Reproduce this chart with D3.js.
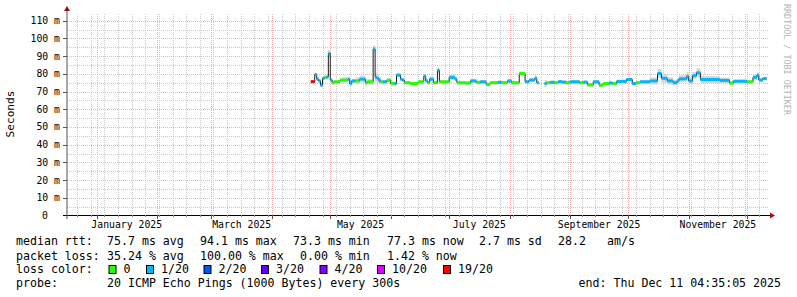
<!DOCTYPE html>
<html lang="en">
<head>
<meta charset="UTF-8">
<title>Smokeping latency</title>
<script src="https://d3js.org/d3.v7.min.js"></script>
<style>
  body { margin: 0; background: #fff; }
  svg { display: block; font-family: "DejaVu Sans Mono", monospace; }
  text { white-space: pre; }
</style>
</head>
<body>
<svg id="graph" width="797" height="297"></svg>
<script>
// each entry starts a step (day 0 = Jan 1 2025) and holds until the next one
const day = [110, 112, 113, 114, 115, 116, 117, 118, 119, 120, 121, 122, 125, 126, 129, 130, 131, 133, 135, 138,
  139, 142, 143, 144, 145, 146, 147, 149, 151, 153, 154, 156, 157, 158, 161, 165, 168, 169, 170, 171,
  173, 175, 176, 181, 184, 185, 189, 192, 195, 197, 200, 202, 206, 208, 211, 213, 217, 220, 222, 225,
  226, 227, 230, 231, 233, 235, 237, 239, 241, 243, 248, 250, 252, 255, 258, 260, 263, 265, 267, 272,
  275, 277, 279, 284, 288, 290, 293, 296, 298, 299, 303, 304, 306, 308, 310, 320, 325, 327, 334, 337,
  339, 340, 342]
const median = [75.6, 79.6, 77.0, 76.0, 73.6, 77.5, 78.0, 78.2, 91.5, 76.5, 75.0, 75.5, 76.4, 76.5, 77.0, 74.5, 76.0, 76.0, 77.0, 75.0,
  75.5, 94.1, 78.0, 77.5, 76.0, 75.5, 75.5, 76.4, 74.5, 74.5, 79.3, 77.0, 76.5, 75.0, 74.5, 75.5, 78.7, 76.0, 75.0, 77.0,
  75.0, 82.0, 75.5, 78.0, 77.0, 75.0, 74.8, 76.0, 75.2, 75.5, 74.0, 75.0, 75.2, 75.0, 76.0, 75.0, 80.2, 75.5, 76.5, 77.5,
  75.0, null, 74.5, 75.0, 75.2, 75.0, 75.6, 75.3, 75.0, 75.5, 75.0, 75.3, 73.8, 75.5, 73.6, 74.5, 74.8, 74.5, 75.7, 76.8,
  74.5, 75.0, 75.5, 76.0, 80.2, 77.5, 76.0, 75.0, 76.0, 77.2, 78.7, 76.0, 79.0, 80.6, 76.8, 76.3, 74.8, 75.8, 75.5, 78.0,
  79.3, 76.5, 77.3]
const loss = [6, 1, 1, 1, 1, 1, 0, 1, 1, 1, 0, 0, 0, 0, 1, 1, 1, 0, 1, 0,
  0, 1, 1, 1, 1, 0, 1, 0, 0, 1, 1, 1, 1, 0, 0, 0, 1, 1, 0, 1,
  0, 1, 0, 1, 1, 0, 0, 1, 0, 1, 0, 0, 1, 0, 1, 0, 0, 1, 1, 1,
  1, 0, 1, 0, 1, 0, 1, 1, 0, 1, 0, 1, 0, 1, 0, 0, 1, 0, 1, 1,
  1, 0, 1, 1, 1, 1, 1, 1, 1, 1, 1, 1, 1, 1, 1, 1, 0, 1, 0, 1,
  1, 1, 1]
const smoke = [0.5, 1, 1, 1, 1, 1, 1, 1, 2, 1, 1, 1, 1, 1.5, 1, 1, 1, 2, 2, 2,
  1.5, 2, 2.5, 2.5, 2, 1.5, 1, 1, 1, 1, 1, 1, 1, 1, 1, 1, 1, 1, 1, 1.5,
  1, 1.5, 1, 1.5, 1, 1, 1, 1, 1, 1, 1, 1, 1, 1, 1, 1, 1, 1, 1, 1.5,
  1, 0, 2, 1, 1, 1, 1, 1, 1, 1, 1, 1, 1, 1, 1, 1, 1, 1, 1, 1,
  1, 1, 1, 2, 2.5, 2.5, 2, 1.5, 1.5, 2, 2.5, 2, 2, 2.5, 2, 1.5, 1, 1, 1, 1.5,
  1.5, 1, 1]

const lossLabels = ["0", "1/20", "2/20", "3/20", "4/20", "10/20", "19/20"]
const lossColors = ["#26ff00", "#00b8ff", "#0059ff", "#5e00ff", "#7e00ff", "#dd00ff", "#ff0000"]
const monthLabels = ["January 2025", "March 2025", "May 2025", "July 2025", "September 2025", "November 2025"]
const yTicks = [0, 10, 20, 30, 40, 50, 60, 70, 80, 90, 100, 110]
const rttStats = ["75.7 ms avg", "94.1 ms max", "73.3 ms min", "77.3 ms now", "2.7 ms sd", "28.2", "am/s"]
const lossStats = ["35.24 % avg", "100.00 % max", "0.00 % min", "1.42 % now"]
const probeText = "20 ICMP Echo Pings (1000 Bytes) every 300s"
const endText = "end: Thu Dec 11 04:35:05 2025"

const svg = d3.select("#graph")
const DAY = 864e5
const t0 = Date.UTC(2025, 0, 1)
const start = new Date(Date.UTC(2024, 11, 16, 20, 0, 0))
const end = new Date(Date.UTC(2025, 11, 11, 4, 35, 5))
const pLeft = 67, pRight = 767, pTop = 14, pBottom = 215.5

const x = d3.scaleUtc().domain([start, end]).range([pLeft, pRight])
const y = d3.scaleLinear().domain([0, 113.8]).range([pBottom, pTop])
const xd = d => x(new Date(t0 + d * DAY))
const crisp = v => Math.round(v) + 0.5

// grid
const grid = svg.append("g")
const months = d3.utcMonth.range(start, end)
const weeks = d3.utcSunday.range(start, end)
const minorCol = "#cacaca", majorCol = "#f2b0b0"
grid.selectAll("line.vmin").data(weeks).join("line")
  .attr("x1", d => crisp(x(d))).attr("x2", d => crisp(x(d)))
  .attr("y1", pTop).attr("y2", 215)
  .attr("stroke", minorCol).attr("stroke-dasharray", "1,1")
const halfTicks = d3.range(5, 114, 10)
grid.selectAll("line.hmin").data(halfTicks).join("line")
  .attr("x1", pLeft).attr("x2", pRight + 1)
  .attr("y1", d => crisp(y(d))).attr("y2", d => crisp(y(d)))
  .attr("stroke", minorCol).attr("stroke-dasharray", "1,1")
grid.selectAll("line.vmaj").data(months).join("line")
  .attr("x1", d => crisp(x(d))).attr("x2", d => crisp(x(d)))
  .attr("y1", pTop).attr("y2", 215)
  .attr("stroke", majorCol).attr("stroke-dasharray", "1,1")
grid.selectAll("line.hmaj").data(yTicks.slice(1)).join("line")
  .attr("x1", pLeft).attr("x2", pRight + 1)
  .attr("y1", d => crisp(y(d))).attr("y2", d => crisp(y(d)))
  .attr("stroke", majorCol).attr("stroke-dasharray", "1,1")

// data segments
const segs = []
for (let i = 0; i < day.length; i++) {
  if (median[i] == null) continue
  const d1 = i + 1 < day.length ? day[i + 1] : 344
  segs.push({ x0: xd(day[i]), x1: xd(d1), v: median[i], c: loss[i], s: smoke[i] })
}

const plot = svg.append("g")
plot.selectAll("rect.smoke").data(segs).join("rect")
  .attr("x", d => d.x0).attr("width", d => d.x1 - d.x0)
  .attr("y", d => y(d.v + d.s)).attr("height", d => y(d.v - d.s) - y(d.v + d.s))
  .attr("fill", "#d6d6d6")

const linePts = []
for (let i = 0; i < day.length; i++) {
  if (median[i] == null) { linePts.push(null); continue }
  const d1 = i + 1 < day.length ? day[i + 1] : 344
  linePts.push([xd(day[i]), y(median[i])], [xd(d1), y(median[i])])
}
plot.append("path")
  .attr("d", d3.line().defined(d => d != null)(linePts))
  .attr("fill", "none").attr("stroke", "#202020").attr("stroke-width", 1)

plot.selectAll("rect.med").data(segs).join("rect")
  .attr("x", d => d.x0).attr("width", d => d.x1 - d.x0)
  .attr("y", d => y(d.v) - 1.5).attr("height", 3)
  .attr("fill", d => lossColors[d.c])

// axes
const axis = svg.append("g")
axis.append("line").attr("x1", 63).attr("x2", 770).attr("y1", 215.5).attr("y2", 215.5)
  .attr("stroke", "#000")
axis.append("line").attr("x1", 67).attr("x2", 67).attr("y1", 219).attr("y2", 10)
  .attr("stroke", "#555")
axis.append("path").attr("d", "M770,212.5L775,215.5L770,218.5Z").attr("fill", "#a01010")
axis.append("path").attr("d", "M64,11L67,6L70,11Z").attr("fill", "#a01010")
axis.selectAll("line.yt").data(yTicks.slice(1)).join("line")
  .attr("x1", 63).attr("x2", 67).attr("y1", d => crisp(y(d))).attr("y2", d => crisp(y(d)))
  .attr("stroke", "#555")
axis.selectAll("line.xt").data(months).join("line")
  .attr("x1", d => crisp(x(d))).attr("x2", d => crisp(x(d))).attr("y1", 215).attr("y2", 219)
  .attr("stroke", "#555")
axis.selectAll("line.xw").data(weeks).join("line")
  .attr("x1", d => crisp(x(d))).attr("x2", d => crisp(x(d))).attr("y1", 215).attr("y2", 217)
  .attr("stroke", "#888")

// y labels
svg.append("g").selectAll("text").data(yTicks).join("text")
  .attr("x", d => d === 0 ? 48 : 60).attr("y", d => y(d)).attr("dy", "0.35em")
  .attr("text-anchor", "end").attr("font-size", "9.8px").attr("fill", "#000")
  .text(d => d === 0 ? "0" : d + " m")

// x labels, centred in their month
const labelMonths = d3.utcMonth.every(2).range(new Date(t0), end)
svg.append("g").selectAll("text").data(labelMonths).join("text")
  .attr("x", d => (x(d) + x(d3.utcMonth.offset(d, 1))) / 2).attr("y", 224.5).attr("dy", "0.35em")
  .attr("text-anchor", "middle").attr("font-size", "9.8px")
  .text((d, i) => monthLabels[i])

svg.append("text").attr("transform", "translate(14,114) rotate(-90)")
  .attr("text-anchor", "middle").attr("font-size", "11.1px").text("Seconds")
svg.append("text").attr("transform", "translate(784,4) rotate(90)")
  .attr("font-size", "8.4px").attr("fill", "#b4b4b4").text("RRDTOOL / TOBI OETIKER")

// legend
const fs = "11.6px"
const cols1 = [107, 200, 293, 387, 479, 558, 607]
const cols2 = [107, 200, 300, 387]
const leg = svg.append("g").attr("font-size", fs)
const row = (yy, label) => leg.append("text").attr("x", 16).attr("y", yy).attr("dy", "0.35em").text(label)
row(240.7, "median rtt:")
leg.selectAll("text.r1").data(rttStats).join("text")
  .attr("x", (d, i) => cols1[i]).attr("y", 240.7).attr("dy", "0.35em").text(d => d)
row(255.7, "packet loss:")
leg.selectAll("text.r2").data(lossStats).join("text")
  .attr("x", (d, i) => cols2[i]).attr("y", 255.7).attr("dy", "0.35em").text(d => d)
row(269.3, "loss color:")
const boxX = [108.5, 146, 203.5, 261, 319.5, 377, 443]
const sw = leg.selectAll("g.sw").data(lossLabels).join("g")
  .attr("transform", (d, i) => `translate(${boxX[i]},265)`)
sw.append("rect").attr("x", 0.5).attr("y", 0.5).attr("width", 7).attr("height", 8)
  .attr("fill", (d, i) => lossColors[i]).attr("stroke", "#000")
sw.append("text").attr("x", 15).attr("y", 4.3).attr("dy", "0.35em").text(d => d)
row(283.3, "probe:")
leg.append("text").attr("x", 107).attr("y", 283.3).attr("dy", "0.35em").text(probeText)
leg.append("text").attr("x", 781).attr("y", 283.3).attr("dy", "0.35em")
  .attr("text-anchor", "end").text(endText)
</script>
</body>
</html>
